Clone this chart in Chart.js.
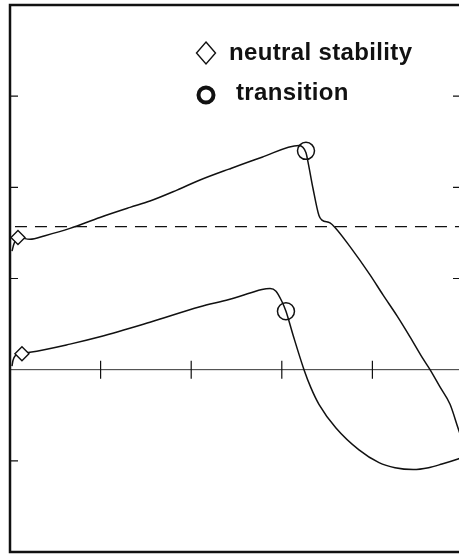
<!DOCTYPE html>
<html>
<head>
<meta charset="utf-8">
<script src="https://cdn.jsdelivr.net/npm/chart.js@4.4.1/dist/chart.umd.min.js"></script>
<style>
  html, body { margin: 0; padding: 0; background: #fff; overflow: hidden; }
  #wrap { position: relative; width: 459px; height: 558px; overflow: hidden; }
  #mycanvas { position: absolute; left: 0; top: 0; }
  #legend span { position: absolute; font: bold 24px "Liberation Sans", Arial, sans-serif; line-height: 24px; letter-spacing: 0.35px; color: #111; white-space: nowrap; }
  #legend svg { position: absolute; }
</style>
</head>
<body>
<div id="wrap">
  <canvas id="mycanvas" width="468" height="558"></canvas>
  <div id="legend">
    <svg style="left:194px;top:40px" width="24" height="26"><path d="M12 2 L21.5 13 L12 24 L2.5 13 Z" fill="none" stroke="#111" stroke-width="1.4"/></svg>
    <span style="left:229px;top:40px">neutral stability</span>
    <svg style="left:194px;top:83px" width="24" height="24"><circle cx="12" cy="12" r="7.5" fill="none" stroke="#111" stroke-width="4"/></svg>
    <span style="left:236px;top:80px">transition</span>
  </div>
</div>
<script>
// upper curve
var upperX = [0.022, 0.044, 0.088, 0.22, 0.386, 0.662, 0.993, 1.325, 1.545, 1.843, 2.097, 2.417, 2.781, 3.19, 3.267, 3.289, 3.344, 3.41, 3.444, 3.532, 3.587, 3.753, 3.974, 4.117, 4.272, 4.415, 4.558, 4.636, 4.746, 4.857, 4.945, 5.0];
var upperY = [1.30, 1.38, 1.45, 1.43, 1.47, 1.55, 1.67, 1.78, 1.85, 1.97, 2.08, 2.20, 2.33, 2.46, 2.38, 2.28, 1.99, 1.69, 1.64, 1.61, 1.56, 1.35, 1.04, 0.82, 0.59, 0.36, 0.12, 0.0, -0.19, -0.38, -0.64, -0.80];

// lower curve
var lowerX = [0.022, 0.033, 0.055, 0.132, 0.22, 0.662, 0.993, 1.545, 2.097, 2.417, 2.65, 2.781, 2.87, 2.936, 3.0, 3.046, 3.124, 3.245, 3.322, 3.41, 3.598, 3.852, 4.073, 4.25, 4.45, 4.62, 4.768, 4.945, 5.0];
var lowerY = [0.04, 0.10, 0.15, 0.18, 0.19, 0.28, 0.36, 0.52, 0.69, 0.77, 0.84, 0.88, 0.89, 0.86, 0.75, 0.64, 0.38, 0.0, -0.20, -0.38, -0.64, -0.88, -1.02, -1.075, -1.095, -1.075, -1.035, -0.98, -0.96];

// markers
var neutralX = [0.088, 0.132];
var neutralY = [1.45, 0.175];
var transitionX = [3.267, 3.046];
var transitionY = [2.40, 0.64];

var dashedLevel = 1.57;
var xTicks = [1, 2, 3, 4];
var leftTicks = [-1, 1, 2, 3];
var rightTicks = [1, 2, 3];

function pts(xs, ys) {
  var out = [];
  for (var i in xs) out.push({x: xs[i], y: ys[i]});
  return out;
}

var ink = '#111';

var framePlugin = {
  id: 'frame',
  afterDatasetsDraw: function(chart) {
    var ctx = chart.ctx, a = chart.chartArea;
    var xs = chart.scales.x, ys = chart.scales.y;
    ctx.save();
    ctx.strokeStyle = ink;
    ctx.lineWidth = 1.2;
    ctx.beginPath();
    var y0 = ys.getPixelForValue(0);
    xTicks.forEach(function(v) {
      var px = xs.getPixelForValue(v);
      ctx.moveTo(px, y0 - 9); ctx.lineTo(px, y0 + 9);
    });
    leftTicks.forEach(function(v) {
      var py = ys.getPixelForValue(v);
      ctx.moveTo(a.left, py); ctx.lineTo(a.left + 8, py);
    });
    rightTicks.forEach(function(v) {
      var py = ys.getPixelForValue(v);
      ctx.moveTo(a.right, py); ctx.lineTo(a.right - 10, py);
    });
    ctx.stroke();
    ctx.lineWidth = 2.5;
    ctx.strokeRect(a.left, a.top, a.right - a.left, a.bottom - a.top);
    ctx.restore();
  }
};

var chartdata = {
  datasets: [
    {
      label: 'neutral stability',
      data: pts(neutralX, neutralY),
      pointStyle: 'rectRot',
      pointRadius: 7,
      pointBorderWidth: 1.4,
      pointBorderColor: ink,
      pointBackgroundColor: '#fff'
    },
    {
      label: 'transition',
      data: pts(transitionX, transitionY),
      pointStyle: 'circle',
      pointRadius: 8.5,
      pointBorderWidth: 1.5,
      pointBorderColor: ink,
      pointBackgroundColor: 'rgba(0,0,0,0)'
    },
    {
      label: 'upper',
      data: pts(upperX, upperY),
      showLine: true,
      pointRadius: 0,
      borderColor: ink,
      borderWidth: 1.5,
      cubicInterpolationMode: 'monotone'
    },
    {
      label: 'lower',
      data: pts(lowerX, lowerY),
      showLine: true,
      pointRadius: 0,
      borderColor: ink,
      borderWidth: 1.5,
      cubicInterpolationMode: 'monotone'
    },
    {
      label: 'level',
      data: [{x: 0.055, y: dashedLevel}, {x: 5, y: dashedLevel}],
      showLine: true,
      pointRadius: 0,
      borderColor: ink,
      borderWidth: 1.2,
      borderDash: [12, 8]
    },
    {
      label: 'zero',
      data: [{x: 0, y: 0}, {x: 5, y: 0}],
      showLine: true,
      pointRadius: 0,
      borderColor: '#333',
      borderWidth: 1
    }
  ]
};

var ctx = document.getElementById('mycanvas');
var graph = new Chart(ctx, {
  type: 'scatter',
  data: chartdata,
  plugins: [framePlugin],
  options: {
    responsive: false,
    animation: false,
    layout: { autoPadding: false, padding: { left: 10, top: 5, right: 5, bottom: 6 } },
    plugins: { legend: { display: false }, tooltip: { enabled: false } },
    scales: {
      x: { type: 'linear', min: 0, max: 5, display: false },
      y: { type: 'linear', min: -2, max: 4, display: false }
    }
  }
});
</script>
</body>
</html>
